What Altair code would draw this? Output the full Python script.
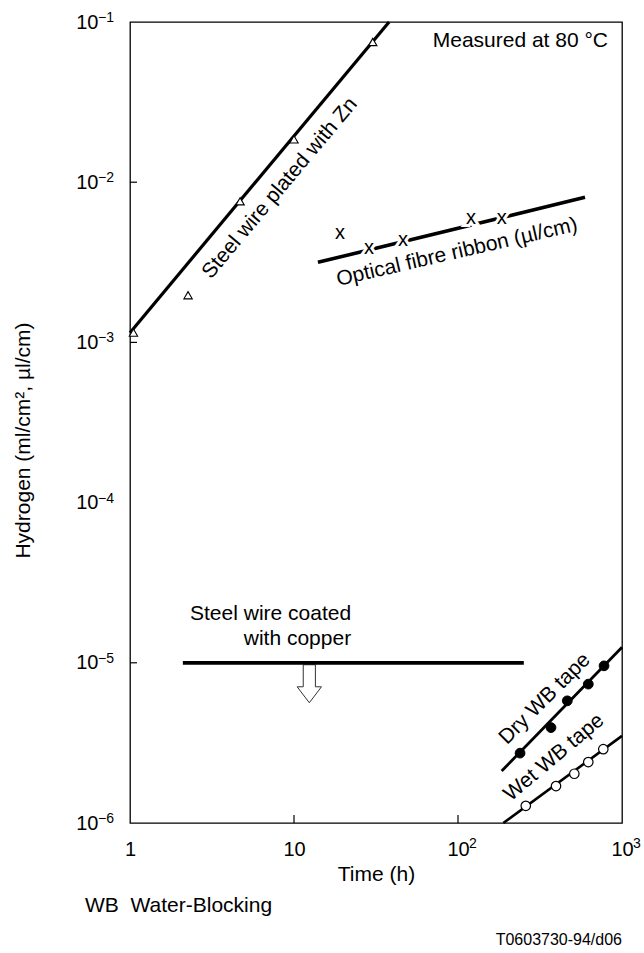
import altair as alt
import pandas as pd

# ---------------- data ----------------
zn_line_t = [1.0, 38.0]
zn_line_h = [1.15e-3, 0.1]
zn_pts_t = [1.05, 2.26, 4.69, 10.0, 30.2]
zn_pts_h = [1.15e-3, 1.97e-3, 7.6e-3, 0.0185, 0.075]

fibre_line_t = [14.0, 595.0]
fibre_line_h = [3.16e-3, 8.05e-3]
fibre_x_t = [19.1, 28.7, 46.2, 120.0, 185.0]
fibre_x_h = [4.8e-3, 3.87e-3, 4.34e-3, 5.96e-3, 5.96e-3]

copper_t = [2.1, 252.0]
copper_h = [1e-5, 1e-5]
arrow_t = [12.4]
arrow_h = [7.4e-6]

dry_line_t = [184.6, 1000.0]
dry_line_h = [2.11e-6, 1.25e-5]
dry_pts_t = [239.0, 369.0, 464.0, 623.0, 777.0]
dry_pts_h = [2.73e-6, 3.94e-6, 5.79e-6, 7.36e-6, 9.57e-6]

wet_line_t = [189.0, 1000.0]
wet_line_h = [1.0e-6, 3.5e-6]
wet_pts_t = [259.0, 396.0, 512.0, 623.0, 769.0]
wet_pts_h = [1.28e-6, 1.70e-6, 2.03e-6, 2.40e-6, 2.89e-6]

# axis tick labels: mantissa shown by the axis, exponent drawn as superscript
x_tick_values = [1, 10, 100, 1000]
x_tick_labels = ["1", "10", "10", "10"]
x_exp_values = [100, 1000]
x_exp_labels = ["2", "3"]
y_tick_values = [1e-6, 1e-5, 1e-4, 1e-3, 1e-2, 1e-1]
y_tick_labels = ["10", "10", "10", "10", "10", "10"]
y_exp_labels = ["−6", "−5", "−4", "−3", "−2", "−1"]
x_inner_ticks = [10, 100]
y_inner_ticks = [1e-5, 1e-3, 1e-2]

# annotation texts (position in data units)
lbl_text = ["Steel wire plated with Zn", "Optical fibre ribbon (µl/cm)",
            "Dry WB tape", "Wet WB tape"]
lbl_t = [8.21, 98.6, 339.0, 385.0]
lbl_h = [9.17e-3, 3.65e-3, 5.96e-6, 2.56e-6]
lbl_angle = [310, 347, 315, 320]

copper_text = ["Steel wire coated", "with copper"]
copper_text_t = [22.3, 22.3]
copper_text_h = [2.02e-5, 1.41e-5]

note_text = ["Measured at 80 °C"]
note_t = [822.0]
note_h = [0.076]

FONT = "Liberation Sans"
W, H = 492, 801

xs = alt.Scale(type="log", domain=[1, 1000], nice=False)
ys = alt.Scale(type="log", domain=[1e-6, 1e-1], nice=False)


def df(t, h, **extra):
    d = {"t": t, "h": h}
    d.update(extra)
    return pd.DataFrame(d)


def label_expr(vals, labels):
    parts = []
    for v, l in zip(vals, labels):
        parts.append(f"abs(datum.value - {v}) < {v * 0.01} ? '{l}'")
    return " : ".join(parts) + " : ''"


X = alt.X("t:Q", scale=xs, axis=alt.Axis(
    title="Time (h)", values=x_tick_values,
    labelExpr=label_expr(x_tick_values, x_tick_labels),
    labelPadding=16, labelFlush=False, labelOverlap=False,
    titleY=40, titleBaseline="top"))
Y = alt.Y("h:Q", scale=ys, axis=alt.Axis(
    title="Hydrogen (ml/cm², µl/cm)", values=y_tick_values,
    labelExpr=label_expr(y_tick_values, y_tick_labels),
    labelPadding=32, labelOverlap=False, labelFlush=False,
    titleX=-97, titleY=418, titleAngle=270, titleBaseline="bottom"))

Xn = alt.X("t:Q", scale=xs)
Yn = alt.Y("h:Q", scale=ys)

zn_line = alt.Chart(df(zn_line_t, zn_line_h)).mark_line(
    color="black", strokeWidth=3.2).encode(x=X, y=Y)

zn_pts = alt.Chart(df(zn_pts_t, zn_pts_h)).mark_point(
    shape="triangle-up", size=70, fill="white", stroke="black",
    strokeWidth=1.1, opacity=1, fillOpacity=1).encode(x=Xn, y=Yn)

fibre_line = alt.Chart(df(fibre_line_t, fibre_line_h)).mark_line(
    color="black", strokeWidth=3.6).encode(x=Xn, y=Yn)

fibre_halo = alt.Chart(df(fibre_x_t, fibre_x_h)).mark_text(
    text="x", font=FONT, fontSize=20, stroke="white", strokeWidth=6,
    baseline="middle").encode(x=Xn, y=Yn)
fibre_x = alt.Chart(df(fibre_x_t, fibre_x_h)).mark_text(
    text="x", font=FONT, fontSize=20, color="black",
    baseline="middle").encode(x=Xn, y=Yn)

arrow = alt.Chart(df(arrow_t, arrow_h)).mark_point(
    shape="M -0.32 -1 L 0.32 -1 L 0.32 0.16 L 0.64 0.16 L 0 1 L -0.64 0.16 L -0.32 0.16 Z",
    size=1444, fill="white", stroke="#333", strokeWidth=1,
    opacity=1, fillOpacity=1).encode(x=Xn, y=Yn)

copper_line = alt.Chart(df(copper_t, copper_h)).mark_line(
    color="black", strokeWidth=3.8).encode(x=Xn, y=Yn)

dry_line = alt.Chart(df(dry_line_t, dry_line_h)).mark_line(
    color="black", strokeWidth=2.8).encode(x=Xn, y=Yn)
dry_pts = alt.Chart(df(dry_pts_t, dry_pts_h)).mark_point(
    shape="circle", size=95, fill="black", stroke="black", strokeWidth=1,
    opacity=1, fillOpacity=1).encode(x=Xn, y=Yn)

wet_line = alt.Chart(df(wet_line_t, wet_line_h)).mark_line(
    color="black", strokeWidth=2.6).encode(x=Xn, y=Yn)
wet_pts = alt.Chart(df(wet_pts_t, wet_pts_h)).mark_point(
    shape="circle", size=90, fill="white", stroke="black", strokeWidth=1.2,
    opacity=1, fillOpacity=1).encode(x=Xn, y=Yn)

labels = alt.Chart(df(lbl_t, lbl_h, label=lbl_text, ang=lbl_angle)).mark_text(
    font=FONT, fontSize=21, color="black", align="center", baseline="middle"
).encode(x=Xn, y=Yn, text="label:N", angle=alt.Angle("ang:Q", scale=None))

copper_lbl = alt.Chart(df(copper_text_t, copper_text_h, label=copper_text)).mark_text(
    font=FONT, fontSize=21, color="black", align="right", baseline="middle"
).encode(x=Xn, y=Yn, text="label:N")

note_lbl = alt.Chart(df(note_t, note_h, label=note_text)).mark_text(
    font=FONT, fontSize=21, color="black", align="right", baseline="middle"
).encode(x=Xn, y=Yn, text="label:N")

# superscript exponents of the tick labels
y_exp = alt.Chart(pd.DataFrame({"h": y_tick_values, "label": y_exp_labels})).mark_text(
    font=FONT, fontSize=14, color="black", align="left", baseline="middle", dy=-4
).encode(y=Yn, x=alt.value(-32), text="label:N")
x_exp = alt.Chart(pd.DataFrame({"t": x_exp_values, "label": x_exp_labels})).mark_text(
    font=FONT, fontSize=14, color="black", align="left", baseline="middle", dx=11
).encode(x=Xn, y=alt.value(H + 21), text="label:N")

# inward tick marks
yticks = alt.Chart(pd.DataFrame({"h": y_inner_ticks})).mark_rule(
    color="black", strokeWidth=1.2).encode(
    y=Yn, x=alt.value(0), x2=alt.value(7))
xticks = alt.Chart(pd.DataFrame({"t": x_inner_ticks})).mark_rule(
    color="black", strokeWidth=1.2).encode(
    x=Xn, y=alt.value(H), y2=alt.value(H - 8))

# footer texts
footer_left = alt.Chart(pd.DataFrame({"label": ["WB\u00a0\u00a0Water-Blocking"]})).mark_text(
    font=FONT, fontSize=21, color="black", align="left", baseline="middle"
).encode(x=alt.value(-45), y=alt.value(884), text="label:N")
footer_right = alt.Chart(pd.DataFrame({"label": ["T0603730-94/d06"]})).mark_text(
    font=FONT, fontSize=16, color="black", align="right", baseline="middle"
).encode(x=alt.value(492), y=alt.value(918), text="label:N")

chart = alt.layer(
    zn_line, yticks, xticks, fibre_line, fibre_halo, fibre_x, zn_pts,
    arrow, copper_line, dry_line, dry_pts, wet_line, wet_pts,
    labels, copper_lbl, note_lbl, y_exp, x_exp, footer_left, footer_right
).properties(
    width=W, height=H,
    autosize=alt.AutoSizeParams(type="none"),
    padding={"left": 130, "top": 22, "right": 22, "bottom": 130},
    background="white",
).configure_view(
    stroke="black", strokeWidth=1.3
).configure_axis(
    domain=False, grid=False, ticks=False, tickSize=0,
    labelFont=FONT, labelFontSize=20, labelColor="black",
    titleFont=FONT, titleFontSize=21, titleColor="black", titleFontWeight="normal",
)

chart.save("out.html", embed_options={"renderer": "svg", "actions": False})
